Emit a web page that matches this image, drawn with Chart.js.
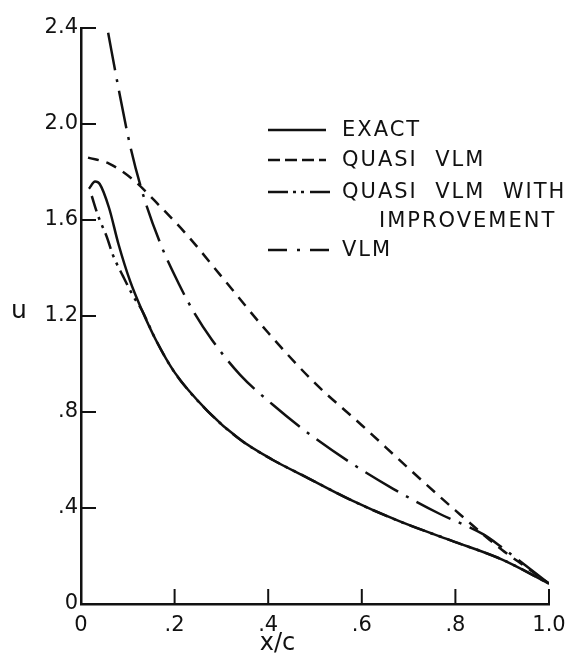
<!DOCTYPE html>
<html>
<head>
<meta charset="utf-8">
<script src="https://cdn.jsdelivr.net/npm/chart.js@4.4.1/dist/chart.umd.min.js"></script>
<style>
  html, body { margin: 0; padding: 0; background: #fff; }
</style>
</head>
<body>
<canvas id="velocityChart" width="583" height="657"></canvas>
<script>
// axis tick labels, printed the old way without leading zeros
var xTickLabels = ['0', '.2', '.4', '.6', '.8', '1.0'];
var yTickLabels = ['0', '.4', '.8', '1.2', '1.6', '2.0', '2.4'];

// exact solution
var exactX = [0.017, 0.03, 0.04, 0.06, 0.08, 0.105, 0.13, 0.16, 0.2, 0.27, 0.34, 0.41, 0.48, 0.575, 0.68, 0.79, 0.9, 1.0];
var exactU = [1.73, 1.76, 1.75, 1.65, 1.5, 1.345, 1.225, 1.1, 0.965, 0.805, 0.685, 0.6, 0.53, 0.435, 0.345, 0.265, 0.185, 0.085];

// quasi vortex-lattice
var quasiX = [0.015, 0.06, 0.11, 0.17, 0.23, 0.3, 0.4, 0.5, 0.6, 0.7, 0.8, 0.9, 0.95, 1.0];
var quasiU = [1.86, 1.835, 1.77, 1.655, 1.53, 1.365, 1.13, 0.92, 0.745, 0.565, 0.39, 0.225, 0.155, 0.085];

// quasi VLM with leading-edge improvement (runs on top of the exact curve past x/c ~ .13)
var improvedX = [0.023, 0.036, 0.055, 0.068, 0.09, 0.111, 0.13, 0.16, 0.2, 0.27, 0.34, 0.41, 0.48, 0.575, 0.68, 0.79, 0.9, 1.0];
var improvedU = [1.70, 1.62, 1.53, 1.455, 1.365, 1.285, 1.225, 1.1, 0.965, 0.805, 0.685, 0.6, 0.53, 0.435, 0.345, 0.265, 0.185, 0.085];

// plain vortex-lattice
var vlmX = [0.058, 0.08, 0.105, 0.132, 0.17, 0.21, 0.24, 0.28, 0.34, 0.41, 0.48, 0.575, 0.667, 0.767, 0.86, 0.9, 0.95, 1.0];
var vlmU = [2.38, 2.15, 1.91, 1.71, 1.5, 1.33, 1.22, 1.1, 0.955, 0.83, 0.72, 0.59, 0.48, 0.375, 0.29, 0.235, 0.16, 0.085];

var ink = '#111';
var fontFamily = '"DejaVu Sans", sans-serif';

function pairs(xs, ys) {
    return xs.map(function(x, i) { return { x: x, y: ys[i] }; });
}

// legend entries: sample dash pattern and text lines
var legendItems = [
    { text: ['EXACT'], dash: [] },
    { text: ['QUASI  VLM'], dash: [12, 5] },
    { text: ['QUASI  VLM  WITH', 'IMPROVEMENT'], dash: [20, 5, 3, 5, 3, 6] },
    { text: ['VLM'], dash: [19, 10, 3, 10] }
];

// inward tick marks, axis titles and the legend
var decorPlugin = {
    id: 'decor',
    afterDraw: function(chart) {
        var ctx = chart.ctx;
        var area = chart.chartArea;
        var xs = chart.scales.x;
        var ys = chart.scales.y;
        ctx.save();
        ctx.strokeStyle = ink;
        ctx.fillStyle = ink;
        ctx.lineWidth = 2;

        xs.ticks.forEach(function(t) {
            var px = xs.getPixelForValue(t.value);
            ctx.beginPath();
            ctx.moveTo(px, area.bottom);
            ctx.lineTo(px, area.bottom - 15);
            ctx.stroke();
        });
        ys.ticks.forEach(function(t) {
            var py = ys.getPixelForValue(t.value);
            ctx.beginPath();
            ctx.moveTo(area.left, py);
            ctx.lineTo(area.left + 15, py);
            ctx.stroke();
        });

        // axis titles
        ctx.textAlign = 'center';
        ctx.textBaseline = 'middle';
        ctx.font = '24px ' + fontFamily;
        ctx.fillText('x/c', xs.getPixelForValue(0.42), 644);
        ctx.font = '25px ' + fontFamily;
        ctx.fillText('u', 19, ys.getPixelForValue(1.22));

        // legend
        ctx.textAlign = 'left';
        ctx.font = '21px ' + fontFamily;
        if ('letterSpacing' in ctx) ctx.letterSpacing = '2px';
        ctx.lineWidth = 2.5;
        var rowY = [130, 160, 192, 250];
        legendItems.forEach(function(item, i) {
            var y = rowY[i];
            ctx.setLineDash(item.dash);
            ctx.beginPath();
            ctx.moveTo(268, y);
            ctx.lineTo(i < 2 ? 326 : 333, y);
            ctx.stroke();
            ctx.setLineDash([]);
            ctx.fillText(item.text[0], 342, y + 1);
            if (item.text[1]) ctx.fillText(item.text[1], 379, y + 30);
        });
        ctx.restore();
    }
};

var lineStyle = {
    borderColor: ink,
    borderWidth: 2.5,
    pointRadius: 0,
    fill: false,
    cubicInterpolationMode: 'monotone'
};

new Chart(document.getElementById('velocityChart'), {
    type: 'line',
    data: {
        datasets: [
            Object.assign({ label: 'EXACT', data: pairs(exactX, exactU), borderDash: [] }, lineStyle),
            Object.assign({ label: 'QUASI VLM', data: pairs(quasiX, quasiU), borderDash: [11, 8] }, lineStyle),
            Object.assign({ label: 'QUASI VLM WITH IMPROVEMENT', data: pairs(improvedX, improvedU), borderDash: [16, 6, 3, 6, 3, 6] }, lineStyle),
            Object.assign({ label: 'VLM', data: pairs(vlmX, vlmU), borderDash: [38, 9, 3, 9] }, lineStyle)
        ]
    },
    options: {
        responsive: false,
        animation: false,
        layout: { padding: { left: 0, top: 28, right: 34, bottom: 0 } },
        plugins: {
            legend: { display: false },
            tooltip: { enabled: false }
        },
        scales: {
            x: {
                type: 'linear',
                min: 0,
                max: 1,
                grid: { display: false, drawTicks: false },
                border: { display: true, color: ink, width: 2.5 },
                ticks: {
                    stepSize: 0.2,
                    padding: 9,
                    color: ink,
                    font: { family: fontFamily, size: 21 },
                    callback: function(v, i) { return xTickLabels[i]; }
                },
                afterFit: function(scale) { scale.height = 53; }
            },
            y: {
                type: 'linear',
                min: 0,
                max: 2.4,
                grid: { display: false, drawTicks: false },
                border: { display: true, color: ink, width: 2.5 },
                ticks: {
                    stepSize: 0.4,
                    padding: 3,
                    color: ink,
                    font: { family: fontFamily, size: 21 },
                    callback: function(v, i) { return yTickLabels[i]; }
                },
                afterFit: function(scale) { scale.width = 81; }
            }
        }
    },
    plugins: [decorPlugin]
});
</script>
</body>
</html>
